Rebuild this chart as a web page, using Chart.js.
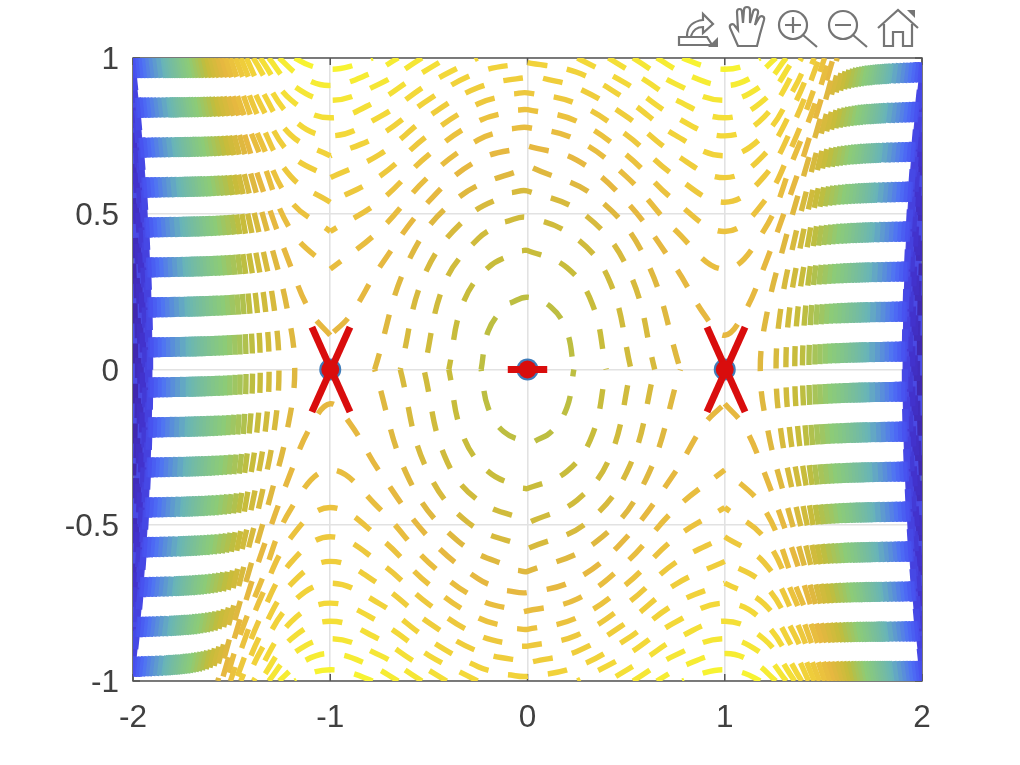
<!DOCTYPE html>
<html lang="en">
<head>
  <meta charset="UTF-8" />
  <title>Phase portrait</title>
  <style>
    body { margin: 0; background: #fff; }
    #wrap { position: relative; width: 1020px; height: 765px; }
    #tools { position: absolute; left: 0; top: 0; pointer-events: none; }
    #tools * { fill: none; stroke: #757575; stroke-width: 2.2; }
    #tools .solid { fill: #757575; stroke: none; }
  </style>
</head>
<body>
  <div id="wrap">
    <canvas id="chart" width="1020" height="765"></canvas>
    <svg id="tools" width="1020" height="50">
      <path d="M679 37 h28 l5 8 h-33 z" />
      <path d="M687 36 c0 -10 7 -15 16 -16 v-6 l10 10 -10 9 v-6 c-6 0 -10 3 -12 9" />
      <path class="solid" d="M718 37 v10 h-10 z" />
      <path d="M738 46 l-8 -18 c-1 -4 3 -5 5 -2 l3 4 -1 -18 c0 -4 5 -4 5 0 l1 11 1 -13 c0 -4 6 -4 6 0 l0 13 3 -11 c1 -4 6 -3 5 1 l-3 12 4 -7 c2 -3 6 -2 5 2 l-4 14 -3 12 z" />
      <circle cx="793" cy="25" r="14" /><path d="M803 35 l14 12 M785 25 h16 M793 17 v16" />
      <circle cx="843" cy="25" r="14" /><path d="M853 35 l14 12 M835 25 h16" />
      <path d="M878 28 l20 -18 20 18 M884 24 v22 h9 v-14 h10 v14 h9 v-22" />
      <path class="solid" d="M907 10 h8 v8 z" />
    </svg>
  </div>

  <script src="https://cdn.jsdelivr.net/npm/chart.js"></script>
  <script>
    const xTickValues = [-2, -1, 0, 1, 2];
    const xTickLabels = ['-2', '-1', '0', '1', '2'];
    const yTickValues = [-1, -0.5, 0, 0.5, 1];
    const yTickLabels = ['-1', '-0.5', '0', '0.5', '1'];

    // side contours, |x| where each level crosses these |y| rows
    const sideRows = [1, 0.8, 0.6, 0.4, 0.2, 0];
    const sideLevels = [-1.484, -1.439, -1.347, -1.255, -1.164, -1.072, -0.981, -0.889, -0.797, -0.706, -0.66, -0.614, -0.568, -0.523, -0.477, -0.431, -0.385, -0.339, -0.294, -0.248, -0.202, -0.156, -0.11, -0.065, -0.019, 0.027, 0.073, 0.119, 0.164, 0.21];
    const sideX = [
      [1.997, 1.964, 1.94, 1.921, 1.91, 1.906],
      [1.98, 1.958, 1.932, 1.913, 1.901, 1.897],
      [1.972, 1.941, 1.915, 1.895, 1.882, 1.878],
      [1.957, 1.923, 1.896, 1.875, 1.862, 1.858],
      [1.94, 1.906, 1.877, 1.856, 1.842, 1.838],
      [1.923, 1.888, 1.858, 1.835, 1.821, 1.816],
      [1.906, 1.868, 1.837, 1.813, 1.799, 1.794],
      [1.887, 1.848, 1.815, 1.791, 1.775, 1.77],
      [1.867, 1.827, 1.793, 1.767, 1.751, 1.745],
      [1.847, 1.805, 1.769, 1.742, 1.725, 1.719],
      [1.837, 1.794, 1.757, 1.729, 1.711, 1.705],
      [1.826, 1.782, 1.744, 1.715, 1.697, 1.69],
      [1.815, 1.77, 1.731, 1.701, 1.682, 1.675],
      [1.805, 1.758, 1.718, 1.687, 1.667, 1.66],
      [1.793, 1.745, 1.704, 1.671, 1.652, 1.645],
      [1.781, 1.732, 1.69, 1.656, 1.635, 1.627],
      [1.769, 1.718, 1.674, 1.64, 1.618, 1.61],
      [1.757, 1.705, 1.66, 1.623, 1.6, 1.592],
      [1.745, 1.69, 1.643, 1.606, 1.581, 1.572],
      [1.73, 1.675, 1.626, 1.587, 1.561, 1.552],
      [1.717, 1.66, 1.609, 1.567, 1.54, 1.53],
      [1.704, 1.644, 1.59, 1.547, 1.518, 1.508],
      [1.69, 1.627, 1.57, 1.525, 1.494, 1.482],
      [1.674, 1.61, 1.551, 1.502, 1.468, 1.457],
      [1.66, 1.592, 1.53, 1.476, 1.44, 1.427],
      [1.643, 1.572, 1.506, 1.45, 1.41, 1.394],
      [1.626, 1.552, 1.48, 1.42, 1.372, 1.355],
      [1.608, 1.53, 1.455, 1.385, 1.33, 1.31],
      [1.59, 1.507, 1.425, 1.347, 1.285, 1.26],
      [1.57, 1.482, 1.39, 1.3, 1.22, 1.18]
    ];

    // short arcs hugging the left and right edges: [|x|, |y|] pairs
    const edgeLevels = [-1.94, -1.85, -1.78, -1.71, -1.64, -1.58, -1.53];
    const edgePoints = [
      [1.99, 0, 1.993, 0.2, 2, 0.34],
      [1.974, 0, 1.978, 0.2, 1.988, 0.4, 2, 0.55],
      [1.962, 0, 1.966, 0.2, 1.976, 0.4, 2, 0.66],
      [1.95, 0, 1.953, 0.2, 1.964, 0.4, 1.983, 0.6, 2, 0.76],
      [1.937, 0, 1.94, 0.2, 1.952, 0.4, 1.97, 0.6, 2, 0.84],
      [1.923, 0, 1.926, 0.2, 1.939, 0.4, 1.957, 0.6, 1.983, 0.8, 2, 0.92],
      [1.914, 0, 1.918, 0.2, 1.93, 0.4, 1.948, 0.6, 1.974, 0.8, 2, 0.96]
    ];

    // arches over and under the centre: [|x|, |y|] pairs from the middle outwards
    const archLevels = [0.256, 0.302, 0.348, 0.394, 0.44, 0.485];
    const archPoints = [
      [0, 0.716, 0.25, 0.672, 0.5, 0.54, 0.75, 0.328, 0.9, 0.173, 1, 0.11, 1.1, 0.184, 1.2, 0.33, 1.35, 0.592, 1.45, 0.787, 1.55, 1],
      [0, 0.777, 0.25, 0.737, 0.5, 0.62, 0.75, 0.447, 1, 0.322, 1.2, 0.448, 1.35, 0.68, 1.45, 0.84, 1.53, 1],
      [0, 0.834, 0.25, 0.797, 0.5, 0.69, 0.75, 0.54, 1, 0.443, 1.2, 0.54, 1.35, 0.73, 1.45, 0.896, 1.506, 1],
      [0, 0.888, 0.25, 0.853, 0.5, 0.754, 0.75, 0.62, 1, 0.537, 1.2, 0.62, 1.35, 0.79, 1.48, 1],
      [0, 0.938, 0.25, 0.905, 0.5, 0.813, 0.75, 0.69, 1, 0.616, 1.2, 0.69, 1.35, 0.847, 1.454, 1],
      [0, 0.985, 0.25, 0.954, 0.5, 0.867, 0.75, 0.752, 1, 0.686, 1.2, 0.753, 1.35, 0.9, 1.425, 1]
    ];
    // left end of the dash nearest the middle of each arch, [x, y]
    const archTopDashes = [[0.008, 0.716], [-0.079, 0.773], [-0.048, 0.833], [-0.068, 0.885], [0.079, 0.935], [0, 0.985]];
    const archBottomDashes = [[-0.104, -0.71], [-0.018, -0.777], [-0.053, -0.832], [-0.028, -0.888], [0.028, -0.938], [-0.099, -0.98]];

    // U shapes in the four corners, inner end to outer end
    const cornerLevels = [0.531, 0.577, 0.623, 0.668, 0.714];
    const cornerPoints = [
      [0.253, 1, 0.5, 0.918, 0.75, 0.811, 1, 0.75, 1.2, 0.811, 1.39, 1],
      [0.41, 1, 0.6, 0.927, 0.75, 0.866, 1, 0.808, 1.2, 0.866, 1.355, 1],
      [0.535, 1, 0.75, 0.917, 1, 0.864, 1.2, 0.917, 1.312, 1],
      [0.655, 1, 0.8, 0.949, 1, 0.912, 1.15, 0.942, 1.26, 1],
      [0.785, 1, 0.9, 0.973, 1, 0.964, 1.1, 0.975, 1.18, 1]
    ];

    // closed rings round the centre, one quarter each, top to side
    const ringLevels = [0.027, 0.073, 0.119, 0.164, 0.21];
    const ringPoints = [
      [0, 0.232, 0.12, 0.2, 0.2, 0.122, 0.235, 0],
      [0, 0.382, 0.2, 0.327, 0.33, 0.208, 0.399, 0],
      [0, 0.488, 0.25, 0.42, 0.42, 0.278, 0.525, 0],
      [0, 0.573, 0.3, 0.492, 0.52, 0.307, 0.645, 0],
      [0, 0.648, 0.35, 0.552, 0.6, 0.353, 0.775, 0]
    ];
    const ringTopDashes = [[-0.089, 0.213], [-0.028, 0.381], [-0.114, 0.474], [-0.079, 0.568], [0.028, 0.647]];
    const ringBottomDashes = [[0.038, -0.23], [-0.023, -0.381], [0.018, -0.488], [0.008, -0.573], [-0.048, -0.645]];

    const equilibriumX = [-1, 0, 1];
    const equilibriumY = [0, 0, 0];
    // red cross arms, [x1, y1, x2, y2]
    const crossArms = [
      [-1.093, 0.136, -0.9, -0.136], [-0.9, 0.136, -1.093, -0.136],
      [0.91, 0.136, 1.103, -0.136], [1.103, 0.136, 0.91, -0.136],
      [-0.1, 0, 0.1, 0]
    ];

    const colorStops = [
      [-2, [62, 38, 168]], [-1.7, [66, 50, 205]], [-1.45, [72, 82, 240]], [-1.2, [78, 112, 245]],
      [-0.7, [104, 180, 184]], [-0.2, [140, 203, 120]], [0, [180, 192, 74]], [0.05, [196, 189, 58]],
      [0.25, [230, 183, 64]], [0.5, [242, 212, 58]], [0.75, [248, 248, 48]]
    ];

    function levelColor(level) {
      for (let i = 1; i < colorStops.length; i++) {
        if (level <= colorStops[i][0]) {
          const a = colorStops[i - 1], b = colorStops[i];
          const t = (level - a[0]) / (b[0] - a[0]);
          const c = a[1].map((v, k) => Math.round(v + (b[1][k] - v) * t));
          return `rgb(${c[0]},${c[1]},${c[2]})`;
        }
      }
      return 'rgb(248,248,48)';
    }

    function toPoints(flat) {
      const pts = [];
      for (let i = 0; i < flat.length; i += 2) pts.push({ x: flat[i], y: flat[i + 1] });
      return pts;
    }

    const flip = (pts, sx, sy) => pts.map(p => ({ x: p.x * sx, y: p.y * sy }));

    function contour(level, data, offset) {
      return {
        data: data,
        showLine: true,
        pointRadius: 0,
        borderColor: levelColor(level),
        borderWidth: level < -0.75 ? 6.5 : 5.4,
        borderDash: [20, 20],
        borderDashOffset: offset || 0,
        borderCapStyle: 'butt',
        tension: 0.4
      };
    }

    function solidEdge(data) {
      return {
        data: data, showLine: true, pointRadius: 0, borderColor: '#4a4ae4', borderWidth: 5,
        borderCapStyle: 'butt', tension: 0.4
      };
    }

    // a curve given left to right, drawn both ways from the start of one dash
    function fromDash(level, curve, dash) {
      const anchor = { x: dash[0], y: dash[1] };
      const right = curve.filter(p => p.x > dash[0] + 0.02);
      const left = curve.filter(p => p.x < dash[0] - 0.02).reverse();
      return [contour(level, [anchor].concat(right)), contour(level, [anchor].concat(left), 20)];
    }

    const datasets = [];

    // solid blue base of the edge columns
    edgeLevels.forEach((level, i) => {
      const q = toPoints(edgePoints[i]);
      const full = q.slice().reverse().concat(flip(q.slice(1), 1, -1));
      datasets.push(solidEdge(flip(full, -1, 1)));
      datasets.push(solidEdge(flip(full, 1, -1)));
    });

    // left ones run downwards from the top edge, right ones upwards from the bottom edge
    edgeLevels.forEach((level, i) => {
      const q = toPoints(edgePoints[i]);
      const full = q.slice().reverse().concat(flip(q.slice(1), 1, -1));
      datasets.push(contour(level, flip(full, -1, 1)));
      datasets.push(contour(level, flip(full, 1, -1)));
    });

    sideLevels.forEach((level, i) => {
      const half = sideRows.map((y, r) => ({ x: sideX[i][r], y: y }));
      const full = half.concat(flip(half.slice(0, -1).reverse(), 1, -1));
      datasets.push(contour(level, flip(full, -1, 1)));
      datasets.push(contour(level, flip(full, 1, -1)));
    });

    ringLevels.forEach((level, i) => {
      const q = toPoints(ringPoints[i]);
      const top = flip(q.slice(1).reverse(), -1, 1).concat(q);
      datasets.push(...fromDash(level, top, ringTopDashes[i]));
      datasets.push(...fromDash(level, flip(top, 1, -1), ringBottomDashes[i]));
    });

    archLevels.forEach((level, i) => {
      const q = toPoints(archPoints[i]);
      const top = flip(q.slice(1).reverse(), -1, 1).concat(q);
      const bottom = flip(top, 1, -1);
      // the outer end keeps the phase of the bands it starts in
      datasets.push(contour(level, top.filter(p => p.x <= -1)));
      datasets.push(...fromDash(level, top.filter(p => p.x >= -1), archTopDashes[i]));
      datasets.push(contour(level, bottom.filter(p => p.x >= 1).reverse()));
      datasets.push(...fromDash(level, bottom.filter(p => p.x <= 1), archBottomDashes[i]));
    });

    cornerLevels.forEach((level, i) => {
      const q = toPoints(cornerPoints[i]);
      datasets.push(contour(level, flip(q.slice().reverse(), -1, 1)));
      datasets.push(contour(level, q));
      datasets.push(contour(level, flip(q.slice().reverse(), 1, -1)));
      datasets.push(contour(level, flip(q, -1, -1)));
    });

    const equilibria = () => equilibriumX.map((x, i) => ({ x: x, y: equilibriumY[i] }));
    datasets.push({ data: equilibria(), pointRadius: 11, pointBackgroundColor: '#3f7cba', pointBorderWidth: 0, showLine: false });
    crossArms.forEach(a => {
      datasets.push({
        data: [{ x: a[0], y: a[1] }, { x: a[2], y: a[3] }],
        showLine: true, pointRadius: 0, borderColor: '#d90d0d', borderWidth: 7, borderCapStyle: 'butt'
      });
    });
    datasets.push({ data: equilibria(), pointRadius: 9, pointBackgroundColor: '#d90d0d', pointBorderWidth: 0, showLine: false });

    // the library paints the first dataset last
    datasets.reverse();

    // axes box and inward ticks, under the data as in the original figure
    const boxPlugin = {
      id: 'box',
      beforeDraw(chart) {
        // y labels sit a little lower than the library centres them
        chart.scales.y.getLabelItems().forEach(item => { item.options.translation[1] += 2.5; });
      },
      beforeDatasetsDraw(chart) {
        const { ctx, chartArea: a, scales } = chart;
        ctx.save();
        ctx.strokeStyle = '#555';
        ctx.lineWidth = 1.5;
        ctx.strokeRect(a.left, a.top, a.right - a.left, a.bottom - a.top);
        ctx.beginPath();
        xTickValues.forEach(v => {
          const px = scales.x.getPixelForValue(v);
          ctx.moveTo(px, a.bottom); ctx.lineTo(px, a.bottom - 7);
          ctx.moveTo(px, a.top); ctx.lineTo(px, a.top + 7);
        });
        yTickValues.forEach(v => {
          const py = scales.y.getPixelForValue(v);
          ctx.moveTo(a.left, py); ctx.lineTo(a.left + 7, py);
          ctx.moveTo(a.right, py); ctx.lineTo(a.right - 7, py);
        });
        ctx.stroke();
        ctx.restore();
      }
    };

    const tickFont = { family: '"Liberation Sans", Arial, sans-serif', size: 31.5 };

    new Chart(document.getElementById('chart').getContext('2d'), {
      type: 'scatter',
      data: { datasets: datasets },
      plugins: [boxPlugin],
      options: {
        responsive: false,
        animation: false,
        layout: { padding: { left: 0, top: 58, right: 98, bottom: 0 } },
        plugins: { legend: { display: false }, tooltip: { enabled: false } },
        scales: {
          x: {
            type: 'linear', min: -2, max: 2,
            afterBuildTicks: s => { s.ticks = xTickValues.map(v => ({ value: v })); },
            afterFit: s => { s.height = 84; },
            grid: { color: '#e2e2e2', lineWidth: 1.6, drawTicks: false },
            border: { display: false },
            ticks: {
              padding: 18, color: '#404040', font: tickFont, maxRotation: 0, autoSkip: false,
              callback: v => xTickLabels[xTickValues.indexOf(v)]
            }
          },
          y: {
            type: 'linear', min: -1, max: 1,
            afterBuildTicks: s => { s.ticks = yTickValues.map(v => ({ value: v })); },
            afterFit: s => { s.width = 133; },
            grid: { color: '#e2e2e2', lineWidth: 1.6, drawTicks: false },
            border: { display: false },
            ticks: {
              padding: 14, color: '#404040', font: tickFont, autoSkip: false,
              callback: v => yTickLabels[yTickValues.indexOf(v)]
            }
          }
        }
      }
    });
  </script>
</body>
</html>
